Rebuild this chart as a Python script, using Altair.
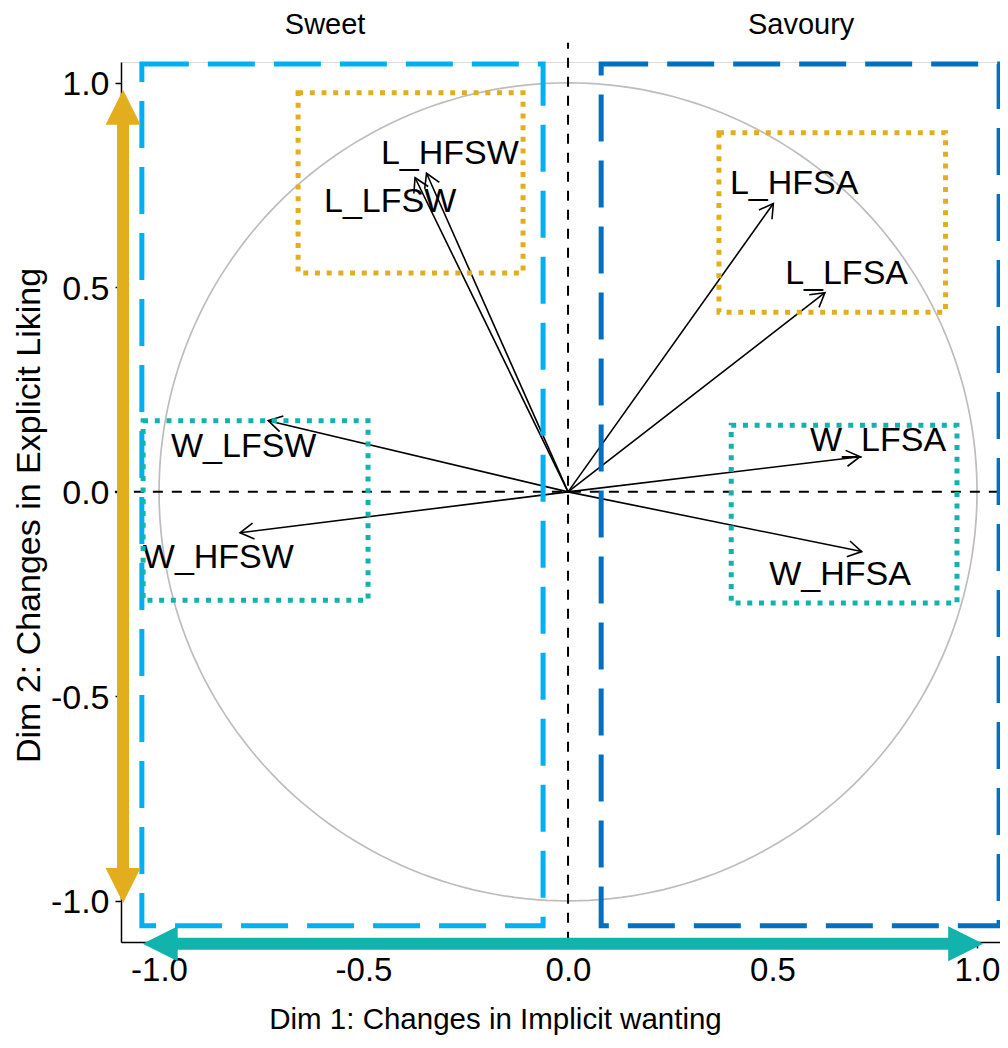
import altair as alt
import numpy as np
import pandas as pd

# ---------------- data ----------------
variables = ["L_HFSW", "L_LFSW", "L_HFSA", "L_LFSA", "W_LFSW", "W_HFSW", "W_LFSA", "W_HFSA"]
dim1 = [-0.346, -0.374, 0.502, 0.628, -0.733, -0.802, 0.714, 0.718]
dim2 = [0.779, 0.768, 0.705, 0.487, 0.174, -0.100, 0.086, -0.146]
label_x = [-0.289, -0.435, 0.553, 0.681, -0.793, -0.855, 0.758, 0.665]
label_y = [0.832, 0.714, 0.757, 0.537, 0.115, -0.156, 0.130, -0.199]

group_titles = ["Sweet", "Savoury"]
group_title_x = [-0.594, 0.570]
group_title_y = [1.147, 1.147]

# dashed group boxes (Sweet / Savoury)
dash_x1 = [-1.042, 0.081]
dash_x2 = [-0.061, 1.054]
dash_y1 = [-1.061, -1.061]
dash_y2 = [1.046, 1.046]
dash_col = ["#00B0F0", "#0070C0"]

# dotted boxes (liking / wanting clusters)
dot_x1 = [-0.660, 0.369, -1.039, 0.399]
dot_x2 = [-0.110, 0.923, -0.489, 0.951]
dot_y1 = [0.535, 0.439, -0.265, -0.272]
dot_y2 = [0.976, 0.878, 0.174, 0.163]
dot_col = ["#E2AE1E", "#E2AE1E", "#12B3AC", "#12B3AC"]

# big double arrows
liking_arrow_x = -1.088
liking_arrow_y = [-1.005, 0.983]
wanting_arrow_y = -1.105
wanting_arrow_x = [-1.040, 1.015]
ORANGE = "#E2AE1E"
TEAL = "#12B3AC"

# reference lines
vline_y = [-1.100, 1.098]
hline_x = [-1.108, 1.076]

# ---------------- scales / axes ----------------
PX = 409.0
PLOT_W = 879
PLOT_H = 880
XMIN = -1.093
XMAX = XMIN + PLOT_W / PX
YMAX = 1.051
YMIN = YMAX - PLOT_H / PX
FONT = "Liberation Sans"

xscale = alt.Scale(domain=[XMIN, XMAX], nice=False, zero=False)
yscale = alt.Scale(domain=[YMIN, YMAX], nice=False, zero=False)
tick_vals = [-1.0, -0.5, 0.0, 0.5, 1.0]
lab_expr = "datum.value < 0 ? '-' + format(-datum.value, '.1f') : format(datum.value, '.1f')"

xaxis = alt.Axis(values=tick_vals, labelExpr=lab_expr, grid=False,
                 title="Dim 1: Changes in Implicit wanting", titleFont=FONT,
                 titleFontSize=29.5, titleFontWeight="normal", titleColor="black",
                 titleX=374, titleY=86, titleAlign="center", titleBaseline="alphabetic",
                 labelFont=FONT, labelFontSize=33, labelColor="black", labelPadding=6,
                 tickSize=6, tickColor="black", tickWidth=1.5,
                 domainColor="black", domainWidth=1.5, labelFlush=False, labelOverlap=False)
yaxis = alt.Axis(values=tick_vals, labelExpr=lab_expr, grid=False,
                 title="Dim 2: Changes in Explicit Liking", titleFont=FONT,
                 titleFontSize=34, titleFontWeight="normal", titleColor="black",
                 titleAngle=270, titleX=-92, titleY=453, titleAlign="center",
                 titleBaseline="middle",
                 labelFont=FONT, labelFontSize=34, labelColor="black", labelPadding=6,
                 labelOffset=2,
                 tickSize=6, tickColor="black", tickWidth=1.5,
                 domainColor="black", domainWidth=1.5, labelFlush=False, labelOverlap=False)


def X(f):
    return alt.X(f, type="quantitative", scale=xscale, axis=xaxis)


def Y(f):
    return alt.Y(f, type="quantitative", scale=yscale, axis=yaxis)


# ---------------- frames ----------------
theta = np.linspace(0, 2 * np.pi, 241)
circle_df = pd.DataFrame({"cx": np.cos(theta), "cy": np.sin(theta), "o": np.arange(len(theta))})

vec_df = pd.DataFrame({"var": variables, "x": dim1, "y": dim2,
                       "lx": label_x, "ly": label_y})
vec_df["x0"] = 0.0
vec_df["y0"] = 0.0
vec_df["ang"] = np.degrees(np.arctan2(vec_df["x"], vec_df["y"])) % 360

dash_df = pd.DataFrame({"x1": dash_x1, "x2": dash_x2, "y1": dash_y1, "y2": dash_y2, "c": dash_col})
dot_df = pd.DataFrame({"x1": dot_x1, "x2": dot_x2, "y1": dot_y1, "y2": dot_y2, "c": dot_col})
title_df = pd.DataFrame({"t": group_titles, "x": group_title_x, "y": group_title_y})

vline_df = pd.DataFrame({"x": [0.0], "y1": [vline_y[0]], "y2": [vline_y[1]]})
hline_df = pd.DataFrame({"y": [0.0], "x1": [hline_x[0]], "x2": [hline_x[1]]})

HEAD = 35 / PX  # head length in data units
shaft_df = pd.DataFrame({
    "x1": [liking_arrow_x, wanting_arrow_x[0] + HEAD - 0.005],
    "x2": [liking_arrow_x, wanting_arrow_x[1] - HEAD + 0.005],
    "y1": [liking_arrow_y[0] + HEAD - 0.005, wanting_arrow_y],
    "y2": [liking_arrow_y[1] - HEAD + 0.005, wanting_arrow_y],
    "c": [ORANGE, TEAL],
})
head_df = pd.DataFrame({
    "x": [liking_arrow_x, liking_arrow_x, wanting_arrow_x[0], wanting_arrow_x[1]],
    "y": [liking_arrow_y[0], liking_arrow_y[1], wanting_arrow_y, wanting_arrow_y],
    "shape": ["M0,0L1,-2L-1,-2Z", "M0,0L1,2L-1,2Z", "M0,0L2,-1L2,1Z", "M0,0L-2,-1L-2,1Z"],
    "c": [ORANGE, ORANGE, TEAL, TEAL],
})

# ---------------- layers ----------------
circle = alt.Chart(circle_df).mark_line(color="#BDBDBD", strokeWidth=1.7).encode(
    x=X("cx"), y=Y("cy"), order="o:Q")

vline = alt.Chart(vline_df).mark_rule(color="black", strokeWidth=2, strokeDash=[10, 9]).encode(
    x=X("x"), y=Y("y1"), y2="y2")
hline = alt.Chart(hline_df).mark_rule(color="black", strokeWidth=2, strokeDash=[10, 9]).encode(
    y=Y("y"), x=X("x1"), x2="x2")

vectors = alt.Chart(vec_df).mark_rule(color="black", strokeWidth=1.6).encode(
    x=X("x0"), y=Y("y0"), x2="x", y2="y")
heads = alt.Chart(vec_df).mark_point(shape="M-1,1.7L0,0L1,1.7", size=256, filled=False,
                                     strokeWidth=1.6, opacity=1, color="black").encode(
    x=X("x"), y=Y("y"), angle=alt.Angle("ang:Q", scale=None))
labels = alt.Chart(vec_df).mark_text(font=FONT, fontSize=34, color="black", align="center",
                                     baseline="middle", dy=2).encode(
    x=X("lx"), y=Y("ly"), text="var:N")

dash_boxes = alt.Chart(dash_df).mark_rect(fillOpacity=0, strokeWidth=5, strokeDash=[47, 19]).encode(
    x=X("x1"), x2="x2", y=Y("y1"), y2="y2", stroke=alt.Stroke("c:N", scale=None))
dot_boxes = alt.Chart(dot_df).mark_rect(fillOpacity=0, strokeWidth=5, strokeDash=[5, 6.7]).encode(
    x=X("x1"), x2="x2", y=Y("y1"), y2="y2", stroke=alt.Stroke("c:N", scale=None))

shafts = alt.Chart(shaft_df).mark_rule(strokeWidth=12).encode(
    x=X("x1"), x2="x2", y=Y("y1"), y2="y2", color=alt.Color("c:N", scale=None))
big_heads = alt.Chart(head_df).mark_point(filled=True, size=1225, opacity=1, strokeWidth=0).encode(
    x=X("x"), y=Y("y"), shape=alt.Shape("shape:N", scale=None), color=alt.Color("c:N", scale=None))

group_titles_layer = alt.Chart(title_df).mark_text(font=FONT, fontSize=29, color="black",
                                                   align="center", baseline="middle", dy=2).encode(
    x=X("x"), y=Y("y"), text="t:N")

chart = alt.layer(
    circle, vline, hline, vectors, heads, labels, dash_boxes, dot_boxes,
    shafts, big_heads, group_titles_layer
).properties(
    width=PLOT_W, height=PLOT_H,
    padding={"left": 113, "top": 54, "right": 0, "bottom": 93},
    autosize=alt.AutoSizeParams(type="none"),
).configure_view(stroke=None).configure(background="white")

chart.save("out.html", embed_options={"renderer": "svg", "actions": False})
